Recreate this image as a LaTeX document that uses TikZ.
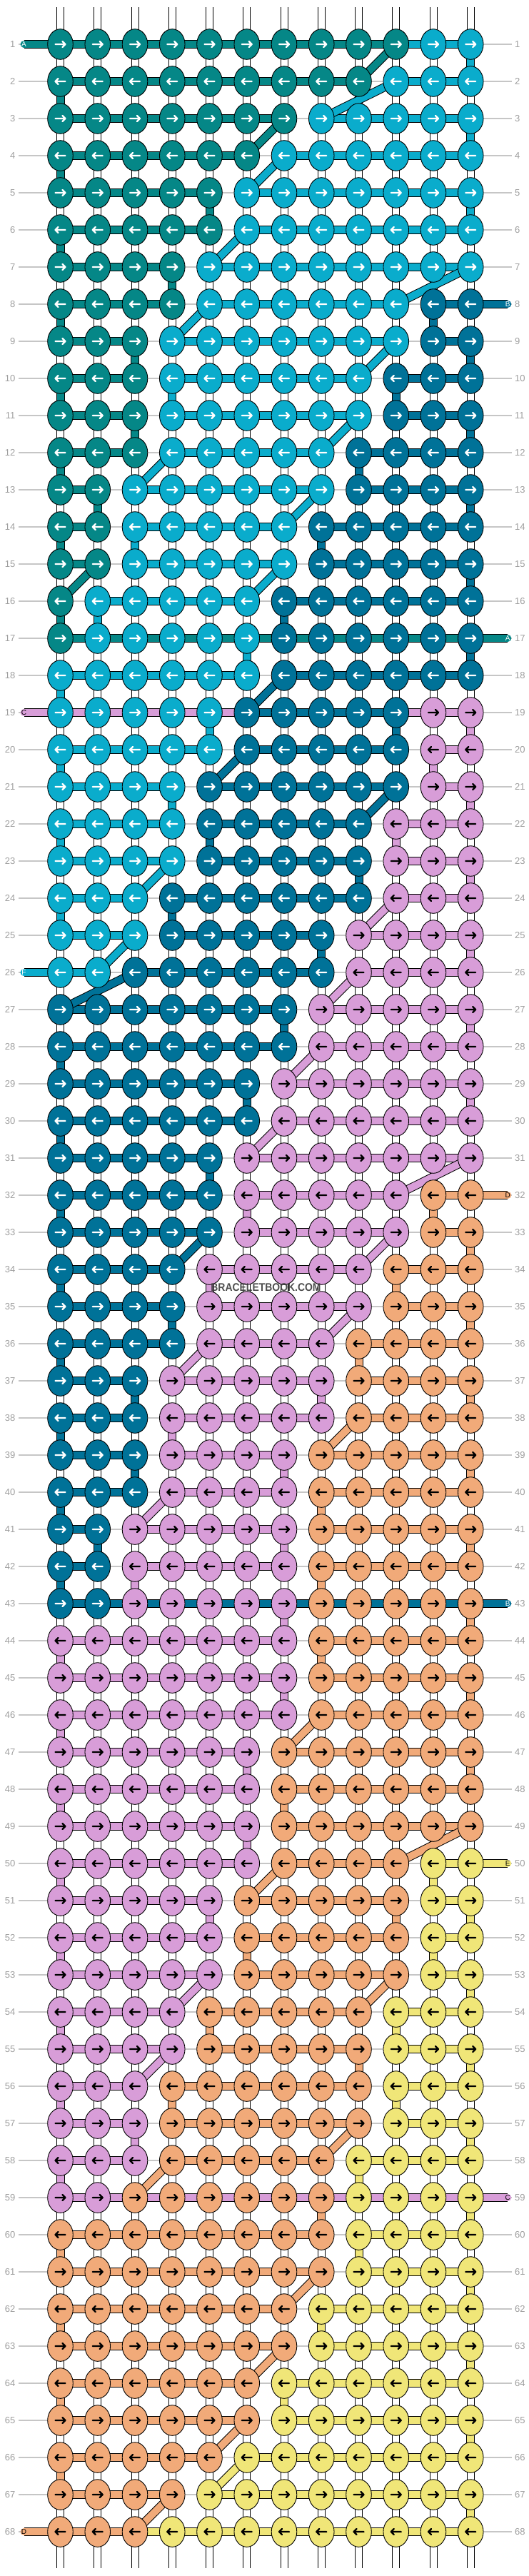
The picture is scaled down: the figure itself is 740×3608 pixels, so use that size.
\documentclass[tikz,border=0pt]{standalone}
\usepackage{fontspec}
\setmainfont{Liberation Sans}
\usetikzlibrary{shapes.geometric}

\definecolor{kT}{HTML}{058787}
\definecolor{kC}{HTML}{0AACCC}
\definecolor{kD}{HTML}{007298}
\definecolor{kP}{HTML}{D89DD8}
\definecolor{kO}{HTML}{F1AA79}
\definecolor{kY}{HTML}{F0E678}
\colorlet{aT}{white}\colorlet{aC}{white}\colorlet{aD}{white}
\colorlet{aP}{black}\colorlet{aO}{black}\colorlet{aY}{black}
\definecolor{rowgray}{HTML}{9E9E9E}
\definecolor{guidegray}{HTML}{C6C6C6}
\definecolor{markgray}{HTML}{3C3C3C}

% row/{colour/first knot/last knot,...}
\def\knotrows{%
1/{T/1/10,C/11/12},2/{T/1/9,C/10/12},3/{T/1/7,C/8/12},4/{T/1/6,C/7/12},%
5/{T/1/5,C/6/12},6/{T/1/5,C/6/12},7/{T/1/4,C/5/12},8/{T/1/4,C/5/10,D/11/12},%
9/{T/1/3,C/4/10,D/11/12},10/{T/1/3,C/4/9,D/10/12},11/{T/1/3,C/4/9,D/10/12},%
12/{T/1/3,C/4/8,D/9/12},13/{T/1/2,C/3/8,D/9/12},14/{T/1/2,C/3/7,D/8/12},%
15/{T/1/2,C/3/7,D/8/12},16/{T/1/1,C/2/6,D/7/12},17/{T/1/1,C/2/6,D/7/12},%
18/{C/1/6,D/7/12},19/{C/1/5,D/6/10,P/11/12},20/{C/1/5,D/6/10,P/11/12},%
21/{C/1/4,D/5/10,P/11/12},22/{C/1/4,D/5/9,P/10/12},23/{C/1/4,D/5/9,P/10/12},%
24/{C/1/3,D/4/9,P/10/12},25/{C/1/3,D/4/8,P/9/12},26/{C/1/2,D/3/8,P/9/12},%
27/{D/1/7,P/8/12},28/{D/1/7,P/8/12},29/{D/1/6,P/7/12},30/{D/1/6,P/7/12},%
31/{D/1/5,P/6/12},32/{D/1/5,P/6/10,O/11/12},33/{D/1/5,P/6/10,O/11/12},%
34/{D/1/4,P/5/9,O/10/12},35/{D/1/4,P/5/9,O/10/12},36/{D/1/4,P/5/8,O/9/12},%
37/{D/1/3,P/4/8,O/9/12},38/{D/1/3,P/4/8,O/9/12},39/{D/1/3,P/4/7,O/8/12},%
40/{D/1/3,P/4/7,O/8/12},41/{D/1/2,P/3/7,O/8/12},42/{D/1/2,P/3/7,O/8/12},%
43/{D/1/2,P/3/7,O/8/12},44/{P/1/7,O/8/12},45/{P/1/7,O/8/12},46/{P/1/7,O/8/12},%
47/{P/1/6,O/7/12},48/{P/1/6,O/7/12},49/{P/1/6,O/7/12},50/{P/1/6,O/7/10,Y/11/12},%
51/{P/1/5,O/6/10,Y/11/12},52/{P/1/5,O/6/10,Y/11/12},53/{P/1/5,O/6/10,Y/11/12},%
54/{P/1/4,O/5/9,Y/10/12},55/{P/1/4,O/5/9,Y/10/12},56/{P/1/3,O/4/9,Y/10/12},%
57/{P/1/3,O/4/9,Y/10/12},58/{P/1/3,O/4/8,Y/9/12},59/{P/1/2,O/3/8,Y/9/12},%
60/{O/1/8,Y/9/12},61/{O/1/8,Y/9/12},62/{O/1/7,Y/8/12},63/{O/1/7,Y/8/12},%
64/{O/1/6,Y/7/12},65/{O/1/6,Y/7/12},66/{O/1/5,Y/6/12},67/{O/1/4,Y/5/12},%
68/{O/1/3,Y/4/12}}

\begin{document}
\begin{tikzpicture}[x=1pt,y=-1pt,
  knot/.style={ellipse,draw=black,line width=0.9,fill=#1,minimum width=35.6,minimum height=42.6,inner sep=0},
  bar/.style={draw=#1,line width=10,preaction={draw=black,line width=12}},
  capbar/.style={bar=#1,line cap=round},
  warp/.style={draw=white,line width=9,line cap=round,preaction={draw=black,line width=11}},
  guide/.style={draw=guidegray,line width=1.2},
  pointer/.style={draw=#1,line width=2.4,line cap=round,line join=round},
  rowlbl/.style={text=rowgray,inner sep=0,font=\fontsize{13}{13}\selectfont},
  capnote/.style={text=#1,inner sep=0,font=\fontsize{10}{10}\selectfont},
  wmark/.style={text=markgray,opacity=0.9,inner sep=0,font=\fontsize{15.5}{15.5}\selectfont\bfseries}]
\useasboundingbox (0,0) rectangle (740,3608);

\foreach \rw/\segs in \knotrows {
  \foreach \cl in {1,...,12}
    \coordinate (k-\rw-\cl) at ({84.5+52.25*(\cl-1)},{62+52*(\rw-1)});
  \coordinate (capL-\rw) at (33.5,{62+52*(\rw-1)});
  \coordinate (capR-\rw) at (711.3,{62+52*(\rw-1)});
  \foreach \clr/\ka/\kb in \segs {
    \expandafter\xdef\csname L-\rw-\clr\endcsname{\ka}
    \expandafter\xdef\csname R-\rw-\clr\endcsname{\kb}
  }
}

\foreach \rw in {1,...,68} {
  \draw[guide] (26,{62+52*(\rw-1)}) -- (717,{62+52*(\rw-1)});
  \node[rowlbl,anchor=east] (ll-\rw) at (21.5,{62+52*(\rw-1)}) {\rw};
  \node[rowlbl,anchor=west] (lr-\rw) at (721,{62+52*(\rw-1)}) {\rw};
}

\foreach \cl in {1,...,12}
  \draw[warp] ([yshift=51.8]k-1-\cl) -- ([yshift=-50.5]k-68-\cl);

% strings along the rows
\foreach \rw/\segs in \knotrows {
  \foreach \clr/\ka/\kb in \segs {
    \ifnum\ka<\kb
      \draw[bar=k\clr] (k-\rw-\ka) -- (k-\rw-\kb);
    \fi
  }
}

% strings passing down to the next row
\foreach \rw/\segs in \knotrows {
  \ifnum\rw<68
    \pgfmathtruncatemacro\rn{\rw+1}
    \foreach \clr/\ka/\kb in \segs {
      \ifcsname L-\rn-\clr\endcsname
        \ifodd\rw\relax
          \edef\nx{\csname R-\rn-\clr\endcsname}
          \draw[bar=k\clr] (k-\rw-\kb) -- (k-\rn-\nx);
        \else
          \edef\nx{\csname L-\rn-\clr\endcsname}
          \draw[bar=k\clr] (k-\rw-\ka) -- (k-\rn-\nx);
        \fi
      \fi
    }
  \fi
}

\draw[bar=kC] (k-1-10) -- (k-1-11);
\draw[bar=kY] (k-68-3) -- (k-68-4);
\draw[capbar=kT] (capL-1) -- (k-1-1);
\draw[capbar=kD] (k-8-12) -- (capR-8);
\draw[capbar=kT] (k-17-1) -- (capR-17);
\draw[capbar=kP] (capL-19) -- (k-19-6);
\draw[bar=kP] (k-19-10) -- (k-19-11);
\draw[capbar=kC] (capL-26) -- (k-26-1);
\draw[capbar=kO] (k-32-12) -- (capR-32);
\draw[capbar=kD] (k-43-1) -- (capR-43);
\draw[capbar=kY] (k-50-12) -- (capR-50);
\draw[capbar=kP] (k-59-1) -- (capR-59);
\draw[capbar=kO] (capL-68) -- (k-68-1);

\foreach \rw/\segs in \knotrows {
  \ifodd\rw\relax \def\dir{1}\else \def\dir{-1}\fi
  \foreach \clr/\ka/\kb in \segs {
    \foreach \cl in {\ka,...,\kb} {
      \node[knot=k\clr] (n-\rw-\cl) at (k-\rw-\cl) {};
      \draw[pointer=a\clr,shift={(k-\rw-\cl)},xscale=\dir] (-7,0) -- (7,0) (3,-4) -- (7,0) -- (3,4);
    }
  }
}

\node[capnote=white] (s-a1) at (capL-1) {A};
\node[capnote=white] (s-b8) at (capR-8) {B};
\node[capnote=white] (s-a17) at (capR-17) {A};
\node[capnote=black] (s-c19) at (capL-19) {C};
\node[capnote=white] (s-f26) at (capL-26) {F};
\node[capnote=black] (s-d32) at (capR-32) {D};
\node[capnote=white] (s-b43) at (capR-43) {B};
\node[capnote=black] (s-e50) at (capR-50) {E};
\node[capnote=black] (s-c59) at (capR-59) {C};
\node[capnote=black] (s-d68) at (capL-68) {D};

\node[wmark] (site) at (372.5,1803.5) {\scalebox{0.9}[1]{BRACELETBOOK.COM}};
\end{tikzpicture}
\end{document}
